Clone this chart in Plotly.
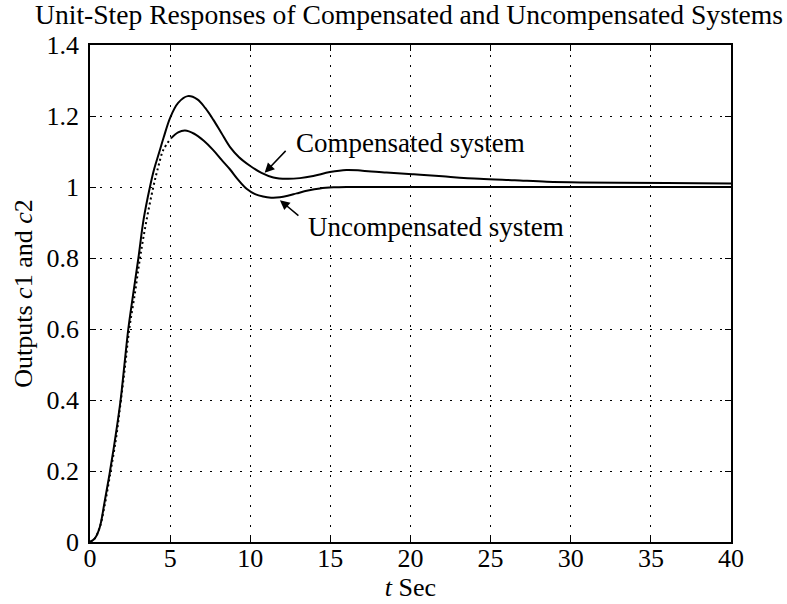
import plotly.graph_objects as go

# compensated system (upper curve)
t_comp = [0, 0.3, 0.6, 0.9, 1.25, 1.6, 1.91, 2.15, 2.39, 2.7, 3.02, 3.35, 3.74, 4.0, 4.3, 4.6, 5.0,
          5.5, 6.1, 6.7, 7.2, 7.7, 8.2, 8.73, 9.3, 9.98, 10.7, 11.44, 12.27, 13.1, 13.93,
          14.97, 16.0, 17.0, 18.5, 20.2, 22.0, 24.3, 26.5, 28.5, 30.6, 33, 36, 40]
c_comp = [0, 0.01, 0.04, 0.11, 0.20, 0.30, 0.40, 0.50, 0.60, 0.70, 0.80, 0.91, 1.00, 1.05, 1.095, 1.14, 1.195,
          1.237, 1.256, 1.247, 1.222, 1.189, 1.152, 1.113, 1.084, 1.060, 1.040, 1.027, 1.023, 1.025, 1.031,
          1.042, 1.048, 1.046, 1.041, 1.036, 1.030, 1.023, 1.019, 1.015, 1.013, 1.012, 1.011, 1.010]

# uncompensated system: dotted rise, then solid
t_unc_rise = [0, 0.3, 0.6, 0.9, 1.29, 1.65, 1.93, 2.2, 2.45, 2.8, 3.12, 3.5, 3.95, 4.26, 4.57, 5.05]
c_unc_rise = [0, 0.01, 0.04, 0.10, 0.20, 0.30, 0.40, 0.50, 0.60, 0.70, 0.80, 0.90, 1.00, 1.057, 1.104, 1.137]
t_unc = [5.05, 5.5, 5.93, 6.5, 7.1, 7.69, 8.2, 8.73, 9.25, 9.77, 10.3, 10.8, 11.3, 11.85, 12.4,
         12.9, 13.6, 14.35, 15.2, 16, 18, 20, 25, 30, 35, 40]
c_unc = [1.137, 1.154, 1.159, 1.150, 1.13, 1.104, 1.077, 1.05, 1.02, 0.995, 0.980, 0.973, 0.970, 0.971, 0.976,
         0.982, 0.990, 0.996, 0.999, 1.0, 1.0, 1.0, 1.0, 1.0, 1.0, 1.0]

x_ticks = [0, 5, 10, 15, 20, 25, 30, 35, 40]
y_ticks = [0, 0.2, 0.4, 0.6, 0.8, 1, 1.2, 1.4]
y_ticktext = ['0', '0.2', '0.4', '0.6', '0.8', '1', '1.2', '1.4']

FONT = 'Liberation Serif'

fig = go.Figure()
fig.add_trace(go.Scatter(x=t_comp, y=c_comp, mode='lines', line_shape='spline',
                         line=dict(color='black', width=2)))
fig.add_trace(go.Scatter(x=t_unc_rise, y=c_unc_rise, mode='lines', line_shape='spline',
                         line=dict(color='black', width=2, dash='2px,3px')))
fig.add_trace(go.Scatter(x=t_unc, y=c_unc, mode='lines', line_shape='spline',
                         line=dict(color='black', width=2)))

# arrows
fig.add_annotation(x=10.9, y=1.04, ax=12.3, ay=1.106, xref='x', yref='y', axref='x', ayref='y',
                   text='', showarrow=True, arrowhead=2, arrowsize=1.3, arrowwidth=1.5, arrowcolor='black')
fig.add_annotation(x=11.85, y=0.963, ax=13.1, ay=0.916, xref='x', yref='y', axref='x', ayref='y',
                   text='', showarrow=True, arrowhead=2, arrowsize=1.3, arrowwidth=1.5, arrowcolor='black')
fig.add_annotation(x=12.75, y=1.124, text='Compensated system', showarrow=False,
                   xanchor='left', yanchor='middle', font=dict(family=FONT, size=27, color='black'))
fig.add_annotation(x=13.5, y=0.888, text='Uncompensated system', showarrow=False,
                   xanchor='left', yanchor='middle', font=dict(family=FONT, size=27, color='black'))

axis_common = dict(
    showline=True, linecolor='black', linewidth=1.5, mirror='ticks',
    ticks='inside', ticklen=6, tickcolor='black',
    showgrid=True, gridcolor='black', gridwidth=1, griddash='2px,8px',
    zeroline=False, automargin=False,
    tickfont=dict(family=FONT, size=26, color='black'),
)

fig.update_xaxes(range=[0, 40], tickvals=x_ticks, ticktext=[str(v) for v in x_ticks], ticklabelstandoff=-8,
                 title=dict(text='<i>t</i> Sec', font=dict(family=FONT, size=26, color='black'), standoff=2),
                 **axis_common)
fig.update_yaxes(range=[0, 1.4], tickvals=y_ticks, ticktext=y_ticktext, ticklabelstandoff=4,
                 title=dict(text='Outputs <i>c</i>1 and <i>c</i>2', font=dict(family=FONT, size=26, color='black'), standoff=6),
                 **axis_common)

fig.update_layout(
    width=787, height=604,
    margin=dict(l=90, r=56, t=45, b=62),
    paper_bgcolor='white', plot_bgcolor='white',
    showlegend=False,
    title=dict(text='Unit-Step Responses of Compensated and Uncompensated Systems',
               xref='container', x=35 / 787, xanchor='left', y=1 - 14 / 604, yanchor='middle',
               font=dict(family=FONT, size=27.6, color='black')),
)

# drop the page's default body margin so the figure sits at the window's corner
fig.write_html("out.html", config={'displayModeBar': False},
               post_script="document.body.style.margin='0';")
